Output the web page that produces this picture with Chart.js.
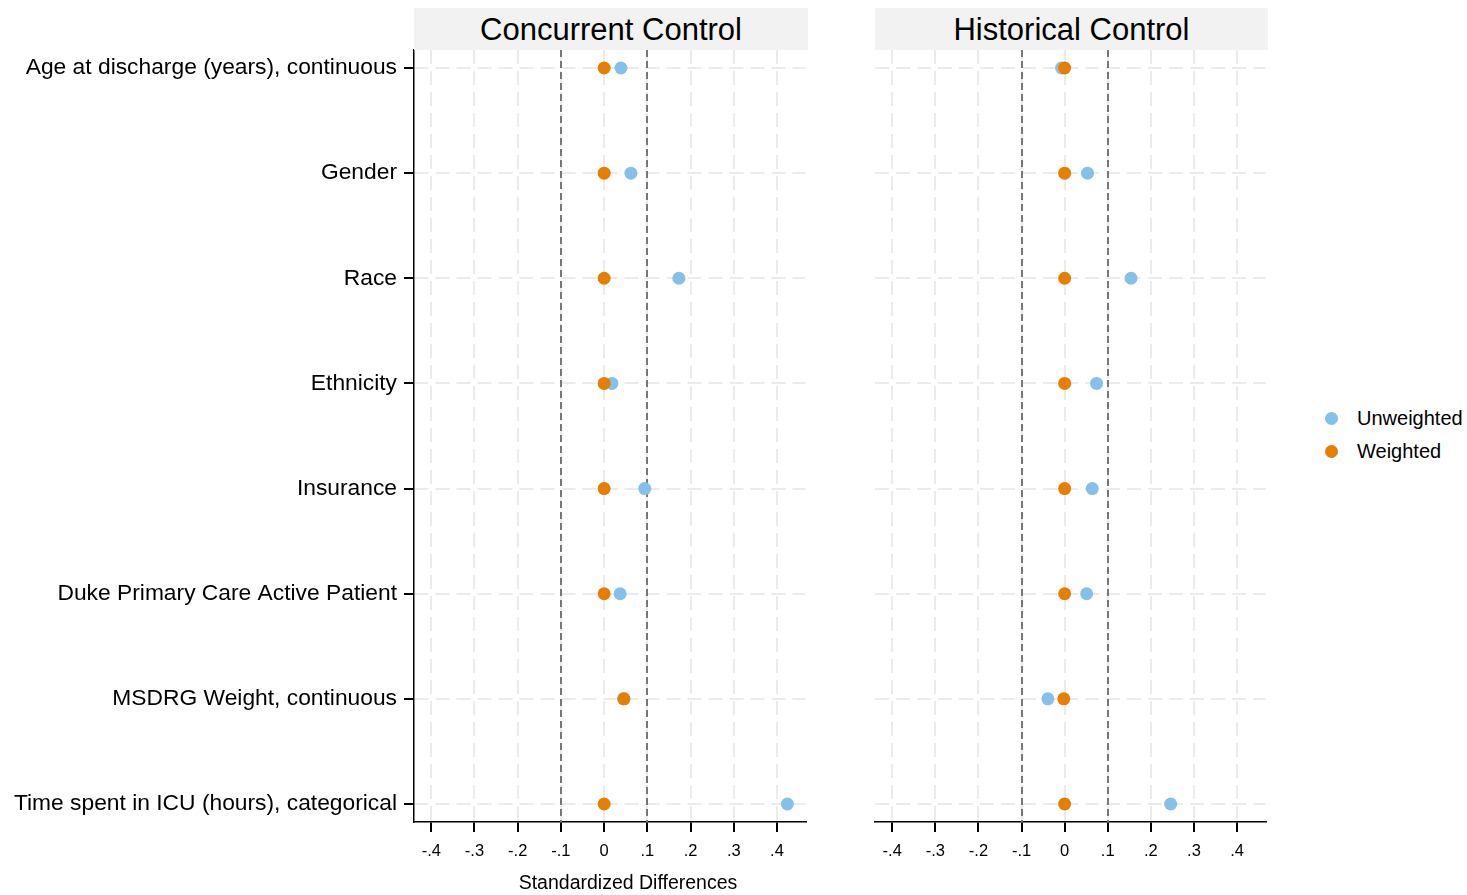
<!DOCTYPE html>
<html>
<head>
<meta charset="utf-8">
<script src="https://cdn.jsdelivr.net/npm/chart.js@4.4.1/dist/chart.umd.min.js"></script>
<style>
  body { margin: 0; background: #fff; font-family: "Liberation Sans", Arial, sans-serif; }
  #wrap { position: relative; width: 1467px; height: 895px; overflow: hidden; }
  canvas { position: absolute; top: 0; }
  .strip { position: absolute; top: 8px; height: 42px; background: #f2f2f2; color: #000;
           font-size: 31px; line-height: 44px; text-align: center; }
  .xtitle { position: absolute; top: 871px; left: 428px; width: 400px; text-align: center; font-size: 19.5px; }
  .legend { position: absolute; left: 1325px; font-size: 20px; }
  .legend span { display: inline-block; width: 13px; height: 13px; border-radius: 50%;
                 vertical-align: 0px; margin-right: 19px; }
</style>
</head>
<body>
<div id="wrap">
  <canvas id="concurrent" width="812" height="895" style="left:0;width:812px;height:895px"></canvas>
  <canvas id="historical" width="412" height="895" style="left:860px;width:412px;height:895px"></canvas>
  <div class="strip" style="left:414px;width:394px">Concurrent Control</div>
  <div class="strip" style="left:875px;width:393px">Historical Control</div>
  <div class="xtitle">Standardized Differences</div>
  <div class="legend" style="top:407px"><span style="background:#85c0e9"></span>Unweighted</div>
  <div class="legend" style="top:440px"><span style="background:#e67e00"></span>Weighted</div>
</div>
<script>
const variables = [
  'Age at discharge (years), continuous',
  'Gender',
  'Race',
  'Ethnicity',
  'Insurance',
  'Duke Primary Care Active Patient',
  'MSDRG Weight, continuous',
  'Time spent in ICU (hours), categorical'
];
const xTicks = [-0.4, -0.3, -0.2, -0.1, 0, 0.1, 0.2, 0.3, 0.4];
const refLines = [-0.1, 0.1];

const concurrentUnweighted = [0.039, 0.062, 0.173, 0.018, 0.094, 0.037, 0.045, 0.424];
const concurrentWeighted   = [0, 0, 0, 0, 0, 0, 0.046, 0];
const historicalUnweighted = [-0.007, 0.053, 0.154, 0.074, 0.064, 0.051, -0.039, 0.246];
const historicalWeighted   = [0, 0, 0, 0, 0, 0, -0.002, 0];

const blue = '#85c0e9';
const orange = '#e67e00';

function fmt(v) {
  if (Math.abs(v) < 1e-9) return '0';
  return (v < 0 ? '-' : '') + Math.abs(v).toFixed(1).replace(/^0/, '');
}

// dashed reference lines at +/- 0.1
const refLinePlugin = {
  id: 'refLines',
  beforeDatasetsDraw(chart) {
    const { ctx, chartArea, scales } = chart;
    ctx.save();
    ctx.strokeStyle = '#777';
    ctx.lineWidth = 2;
    ctx.setLineDash([7, 4]);
    refLines.forEach(v => {
      const x = Math.round(scales.x.getPixelForValue(v));
      ctx.beginPath();
      ctx.moveTo(x, chartArea.top);
      ctx.lineTo(x, chartArea.bottom);
      ctx.stroke();
    });
    ctx.restore();
  }
};

function makeChart(id, unweighted, weighted, showY) {
  const toPts = arr => arr.map((v, i) => ({ x: v, y: i }));
  return new Chart(document.getElementById(id), {
    type: 'scatter',
    data: {
      datasets: [
        { label: 'Weighted', data: toPts(weighted), backgroundColor: orange, borderWidth: 0, pointRadius: 6.5, order: 1 },
        { label: 'Unweighted', data: toPts(unweighted), backgroundColor: blue, borderWidth: 0, pointRadius: 6.5, order: 2 }
      ]
    },
    options: {
      responsive: false,
      animation: false,
      events: [],
      layout: { padding: { top: 50, right: 2, bottom: 0, left: 0 } },
      plugins: { legend: { display: false }, tooltip: { enabled: false } },
      scales: {
        x: {
          type: 'linear',
          min: -0.44,
          max: 0.466,
          afterBuildTicks: s => { s.ticks = xTicks.map(v => ({ value: v })); },
          afterFit: s => { s.height = 73; },
          ticks: { callback: v => fmt(v), color: '#000', padding: 10, maxRotation: 0,
                   font: { family: 'Liberation Sans', size: 16.5 } },
          grid: { color: '#ebebeb', lineWidth: 2, tickLength: 10, tickColor: '#000', tickWidth: 2, tickBorderDash: [] },
          border: { display: true, color: '#000', width: 1.5, dash: [14, 7] }
        },
        y: {
          type: 'linear',
          reverse: true,
          min: -0.171,
          max: variables.length - 1 + 0.171,
          afterBuildTicks: s => { s.ticks = variables.map((_, i) => ({ value: i })); },
          afterFit: s => { s.width = showY ? 414 : 15; },
          ticks: { display: showY, callback: v => variables[v], color: '#000', padding: 7,
                   font: { family: 'Liberation Sans', size: 22.8 } },
          grid: { color: '#ebebeb', lineWidth: 2, drawTicks: showY, tickLength: 10, tickColor: '#000', tickWidth: 2, tickBorderDash: [] },
          border: { display: showY, color: '#000', width: 1.5, dash: [14, 7] }
        }
      }
    },
    plugins: [refLinePlugin]
  });
}

makeChart('concurrent', concurrentUnweighted, concurrentWeighted, true);
makeChart('historical', historicalUnweighted, historicalWeighted, false);
</script>
</body>
</html>
